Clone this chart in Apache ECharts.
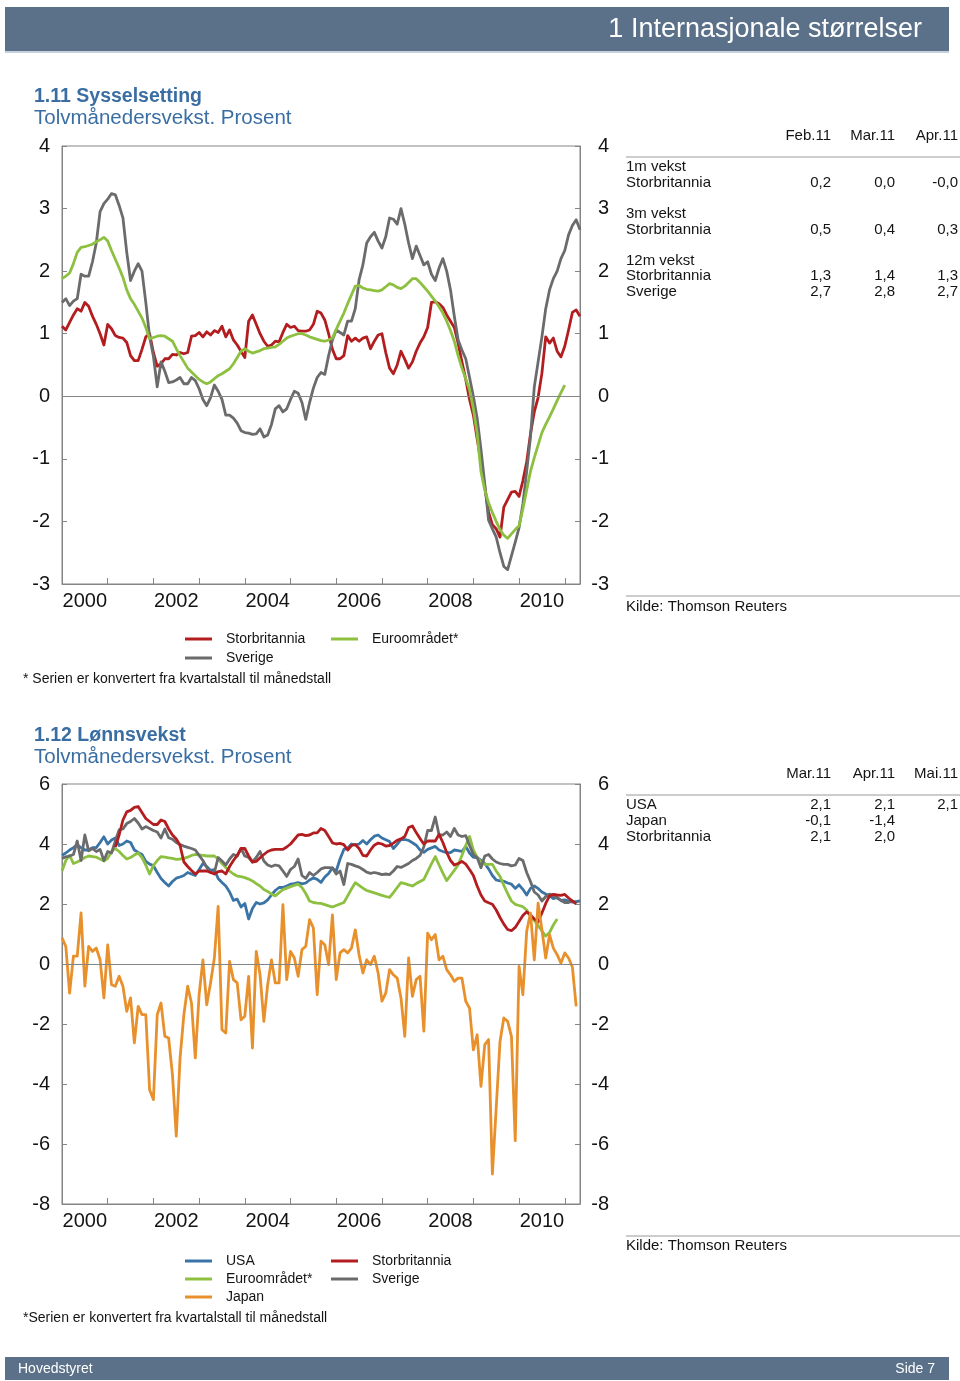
<!DOCTYPE html>
<html>
<head>
<meta charset="utf-8">
<script src="https://cdn.jsdelivr.net/npm/echarts@6/dist/echarts.min.js"></script>
<style>
html,body{margin:0;padding:0;background:#fff;}
#chart{width:960px;height:1381px;}
</style>
</head>
<body>
<div id="chart"></div>
<script>
// ---------- DATA (monthly, index 0 = Jan 2000) ----------
const yearLabels = ['2000','2002','2004','2006','2008','2010'];
const yTicks1 = [-3,-2,-1,0,1,2,3,4];
const yTicks2 = [-8,-6,-4,-2,0,2,4,6];

// 1.11 Sysselsetting
const sysUK = [
 1.12,1.06,1.18,1.30,1.40,1.36,1.50,1.44,1.28,1.15,1.00,0.82,
 1.15,1.08,0.97,0.94,0.93,0.86,0.65,0.57,0.57,0.75,0.95,1.00,
 0.70,0.48,0.52,0.60,0.60,0.67,0.66,0.70,0.68,0.70,0.96,0.97,
 1.02,0.95,1.03,0.98,1.05,1.02,1.12,0.95,1.06,0.90,0.82,0.72,
 0.62,1.20,1.30,1.15,1.00,0.88,0.80,0.82,0.88,0.87,1.02,1.15,
 1.10,1.12,1.05,1.04,1.04,1.06,1.15,1.36,1.33,1.22,1.00,0.75,
 0.60,0.60,0.65,0.97,0.88,0.93,0.88,0.93,0.95,0.76,0.88,0.98,
 1.00,0.70,0.45,0.36,0.50,0.72,0.59,0.45,0.55,0.72,0.85,0.95,
 1.10,1.50,1.51,1.48,1.42,1.30,1.20,1.10,0.85,0.55,0.27,-0.05,
 -0.30,-0.68,-1.05,-1.45,-1.85,-2.05,-2.12,-2.25,-1.77,-1.65,-1.53,-1.52,
 -1.60,-1.35,-1.05,-0.60,-0.25,-0.02,0.37,0.95,0.85,0.93,0.72,0.63,
 0.80,1.06,1.34,1.38,1.28
];
const sysSE = [
 1.50,1.56,1.45,1.52,1.56,1.95,1.92,1.92,2.15,2.45,2.95,3.08,
 3.15,3.24,3.22,3.05,2.85,2.30,1.85,2.00,2.12,2.00,1.50,0.95,
 0.64,0.15,0.55,0.40,0.22,0.23,0.26,0.30,0.20,0.20,0.30,0.25,
 0.12,-0.05,-0.15,-0.02,0.18,0.08,-0.05,-0.30,-0.30,-0.35,-0.43,-0.55,
 -0.58,-0.59,-0.61,-0.60,-0.52,-0.65,-0.62,-0.45,-0.20,-0.15,-0.25,-0.20,
 -0.05,0.08,0.05,-0.10,-0.37,-0.10,0.13,0.30,0.38,0.35,0.65,0.90,
 1.06,1.02,0.98,1.20,1.20,1.40,1.86,2.10,2.45,2.55,2.62,2.48,
 2.37,2.55,2.85,2.83,2.75,3.00,2.75,2.45,2.20,2.40,2.25,2.10,
 2.15,1.95,1.85,2.05,2.20,2.00,1.70,1.28,0.90,0.74,0.60,0.30,
 0.00,-0.35,-0.85,-1.40,-1.98,-2.12,-2.25,-2.50,-2.72,-2.77,-2.55,-2.33,
 -2.10,-1.72,-1.20,-0.65,0.15,0.55,0.95,1.40,1.70,1.88,2.00,2.20,
 2.33,2.58,2.73,2.82,2.66
];
const sysEA = [
 1.88,1.92,1.97,2.12,2.30,2.38,2.39,2.41,2.43,2.47,2.50,2.54,
 2.48,2.33,2.19,2.05,1.90,1.70,1.56,1.47,1.36,1.25,1.10,0.92,
 0.94,0.96,0.97,0.96,0.92,0.88,0.76,0.65,0.55,0.45,0.39,0.33,
 0.27,0.23,0.20,0.23,0.28,0.33,0.36,0.40,0.44,0.52,0.62,0.72,
 0.76,0.72,0.69,0.71,0.73,0.76,0.77,0.78,0.79,0.83,0.88,0.93,
 0.96,0.98,1.00,1.00,0.98,0.95,0.93,0.91,0.89,0.88,0.90,0.93,
 1.07,1.20,1.33,1.48,1.62,1.76,1.77,1.73,1.71,1.70,1.69,1.68,
 1.70,1.75,1.80,1.78,1.74,1.72,1.76,1.82,1.88,1.88,1.82,1.75,
 1.68,1.60,1.52,1.43,1.33,1.20,1.05,0.88,0.65,0.45,0.28,0.10,
 -0.20,-0.60,-1.20,-1.50,-1.70,-1.86,-2.00,-2.13,-2.22,-2.27,-2.20,-2.13,
 -2.07,-1.80,-1.50,-1.20,-0.98,-0.78,-0.58,-0.45,-0.33,-0.20,-0.07,0.06,
 0.18
];

// 1.12 Lønnsvekst
const lonUSA = [
 3.62,3.70,3.80,3.88,3.97,3.88,3.80,3.80,3.88,3.88,4.05,4.24,
 4.00,4.13,4.20,3.95,4.00,4.10,4.05,3.80,3.72,3.65,3.42,3.33,
 3.28,3.05,2.85,2.72,2.60,2.75,2.86,2.90,2.95,3.05,3.00,2.95,
 3.15,3.35,3.25,3.12,3.15,2.85,2.72,2.60,2.40,2.12,2.16,1.90,
 2.02,1.50,1.85,2.05,2.00,2.04,2.14,2.30,2.45,2.55,2.55,2.60,
 2.66,2.68,2.71,2.67,2.70,2.80,2.87,2.82,2.72,2.90,3.02,3.20,
 3.10,3.50,3.82,3.86,4.00,3.97,4.00,4.12,4.00,4.14,4.26,4.30,
 4.20,4.14,4.08,3.85,3.99,4.15,4.15,4.12,4.04,3.96,3.80,3.72,
 3.82,3.87,3.92,3.80,3.75,3.71,3.71,3.80,3.78,3.75,3.92,3.70,
 3.56,3.54,3.46,3.35,3.17,2.95,2.80,2.77,2.76,2.70,2.66,2.52,
 2.64,2.49,2.30,2.52,2.60,2.52,2.40,2.33,2.27,2.18,2.22,2.12,
 2.14,2.10,2.06,2.08,2.10
];
const lonUK = [
 null,null,null,null,null,null,null,null,null,null,null,null,
 null,null,3.90,4.30,4.80,5.07,5.12,5.22,5.25,5.05,4.85,4.75,
 4.65,4.65,4.80,4.75,4.50,4.30,4.17,3.95,3.40,3.25,3.12,3.00,
 3.10,3.10,3.10,3.05,3.00,3.08,3.10,3.00,3.25,3.45,3.62,3.85,
 3.85,3.60,3.40,3.42,3.54,3.65,3.75,3.80,3.82,3.82,3.82,3.90,
 4.00,4.15,4.30,4.32,4.28,4.30,4.37,4.37,4.52,4.45,4.25,4.04,
 4.00,4.02,3.98,3.80,3.95,3.98,3.85,3.62,3.60,3.80,3.96,4.03,
 4.00,3.93,3.95,4.03,4.12,4.17,4.25,4.55,4.60,4.38,4.18,4.00,
 4.10,4.10,4.10,4.32,4.05,3.72,3.45,3.30,3.35,3.42,3.33,3.15,
 2.95,2.60,2.30,2.10,2.04,1.99,1.80,1.55,1.33,1.15,1.11,1.22,
 1.42,1.62,1.74,1.63,1.50,1.40,1.70,2.02,2.27,2.32,2.30,2.29,
 2.32,2.20,2.10,2.00
];
const lonEA = [
 3.10,3.45,3.62,3.35,3.40,3.47,3.55,3.60,3.58,3.56,3.50,3.43,
 3.52,3.75,3.85,3.75,3.62,3.50,3.55,3.63,3.70,3.55,3.30,3.00,
 3.28,3.45,3.58,3.56,3.54,3.52,3.49,3.50,3.52,3.56,3.62,3.65,
 3.64,3.62,3.60,3.60,3.60,3.50,3.35,3.22,3.10,3.00,2.93,2.91,
 2.88,2.83,2.77,2.68,2.60,2.48,2.42,2.33,2.27,2.38,2.48,2.53,
 2.58,2.62,2.66,2.55,2.35,2.10,2.05,2.03,2.02,1.98,1.94,1.90,
 1.95,2.00,2.05,2.27,2.50,2.71,2.62,2.53,2.45,2.41,2.37,2.33,
 2.29,2.25,2.22,2.38,2.55,2.71,2.68,2.64,2.60,2.68,2.75,2.82,
 3.08,3.34,3.58,3.30,3.03,2.78,2.95,3.12,3.30,3.62,3.95,4.25,
 3.80,3.55,3.40,3.32,3.32,3.32,3.10,2.92,2.62,2.35,2.10,1.99,
 1.95,1.91,1.80,1.60,1.45,1.28,1.10,0.93,1.05,1.30,1.50
];
const lonJP = [
 0.87,0.59,-0.97,0.26,0.26,1.70,-0.74,0.59,0.42,0.53,0.14,-1.13,
 0.64,-0.69,-0.74,-0.41,-0.74,-1.58,-1.13,-2.63,-1.41,-1.69,-1.69,-4.19,
 -4.52,-1.69,-1.30,-2.41,-2.47,-3.69,-5.74,-3.13,-1.69,-0.74,-1.30,-3.13,
 -1.02,0.14,-1.36,-0.63,0.20,1.92,-2.19,-2.30,0.09,-0.52,-0.63,-1.86,
 -1.74,-0.41,-2.80,0.42,-0.36,-1.91,-0.69,0.14,-0.63,-0.63,1.98,-0.52,
 0.42,0.20,-0.41,0.48,0.59,1.48,1.20,-1.02,0.76,0.64,-0.02,1.64,
 -0.52,0.37,0.48,0.37,0.53,1.14,0.31,-0.30,0.14,-0.02,0.26,-0.30,
 -1.24,-0.97,-0.19,-0.36,-0.47,-1.13,-2.41,0.20,-1.08,-0.52,-0.41,-2.24,
 1.03,0.81,0.98,0.14,0.26,-0.19,-0.36,-0.58,-0.47,-0.47,-1.24,-1.47,
 -2.86,-2.36,-4.08,-2.69,-2.52,-7.00,-4.80,-2.58,-1.80,-1.91,-2.41,-5.89,
 -0.08,-1.02,1.09,1.70,0.14,2.03,1.14,0.20,0.98,0.53,0.31,0.03,
 0.37,0.20,-0.10,-1.41
];
const lonSE = [
 3.52,3.57,3.60,3.65,4.10,3.45,4.30,3.77,3.85,3.75,3.82,3.45,
 3.75,3.70,4.10,4.47,4.50,4.68,4.75,4.85,4.70,4.50,4.58,4.52,
 4.45,4.40,4.20,4.50,4.21,4.16,4.05,3.98,3.93,3.89,3.85,3.80,
 3.62,3.45,3.22,3.05,3.05,3.55,3.43,3.30,3.50,3.65,3.60,3.85,
 3.60,3.55,3.40,3.55,3.75,3.43,3.30,3.25,3.30,3.27,3.10,2.92,
 3.15,3.25,3.50,2.95,2.85,3.05,2.95,3.05,3.17,3.21,3.21,3.20,
 3.00,3.10,2.65,3.35,3.32,3.27,3.23,3.15,3.06,3.02,3.05,3.02,
 2.98,3.00,2.98,3.10,3.25,3.22,3.28,3.35,3.45,3.52,3.62,3.90,
 4.45,4.45,4.90,4.30,4.30,4.40,4.25,4.52,4.30,4.25,4.28,3.95,
 3.65,3.55,3.21,3.60,3.65,3.50,3.40,3.35,3.32,3.32,3.27,3.30,
 3.52,3.45,3.05,2.75,2.40,2.30,2.10,2.25,2.33,2.27,2.20,2.12,
 2.05,2.05,2.10,2.05
];

// Tables
const tab1Head = ['Feb.11','Mar.11','Apr.11'];
const tab1Groups = [
  {title:'1m vekst', rows:[['Storbritannia','0,2','0,0','-0,0']]},
  {title:'3m vekst', rows:[['Storbritannia','0,5','0,4','0,3']]},
  {title:'12m vekst', rows:[['Storbritannia','1,3','1,4','1,3'],['Sverige','2,7','2,8','2,7']]}
];
const tab2Head = ['Mar.11','Apr.11','Mai.11'];
const tab2Rows = [
  ['USA','2,1','2,1','2,1'],
  ['Japan','-0,1','-1,4',''],
  ['Storbritannia','2,1','2,0','']
];

// ---------- CHART ----------
const FONT = '"Liberation Sans", Arial, Helvetica, sans-serif';
const AX = '#858585';
const TXT = '#141414';
const C = {red:'#b31d1f', gray:'#6b6b6d', green:'#8dc040', blue:'#3a74a6', orange:'#e8902c'};
const X_MAX = 136;

function xy(arr){ return arr.map((v,i)=>[i,v]).filter(p=>p[1]!==null); }

function xAxes(g){
  return [
    {type:'value', gridIndex:g, min:0, max:X_MAX, interval:12, position:'bottom',
     axisLine:{show:true, onZero:false, lineStyle:{color:AX, width:1}},
     axisTick:{show:true, inside:true, length:6, lineStyle:{color:AX}},
     axisLabel:{show:false}, splitLine:{show:false}},
    {type:'value', gridIndex:g, min:0, max:X_MAX, interval:6, position:'bottom',
     axisLine:{show:false, onZero:false}, axisTick:{show:false}, splitLine:{show:false},
     axisLabel:{show:true, margin:7, fontSize:20, color:TXT, fontFamily:FONT,
       formatter:v => { const k=(v-6)/24; return (Number.isInteger(k) && yearLabels[k]) ? yearLabels[k] : ''; }}}
  ];
}
function yAxes(g, ticks){
  const mn = ticks[0], mx = ticks[ticks.length-1], iv = ticks[1]-ticks[0];
  const base = {type:'value', gridIndex:g, min:mn, max:mx, interval:iv, splitLine:{show:false},
    axisLine:{show:true, onZero:false, lineStyle:{color:AX, width:1}},
    axisTick:{show:true, inside:true, length:5, lineStyle:{color:AX}}};
  return [
    Object.assign({}, base, {position:'left', axisLabel:{margin:12, fontSize:20, color:TXT, fontFamily:FONT}}),
    Object.assign({}, base, {position:'right', axisLabel:{margin:29, align:'right', fontSize:20, color:TXT, fontFamily:FONT}})
  ];
}
function line(name, arr, color, xi, yi){
  return {type:'line', name:name, data:xy(arr), xAxisIndex:xi, yAxisIndex:yi,
    showSymbol:false, symbol:'none', color:color, smooth:false, animation:false,
    lineStyle:{color:color, width:2.8, join:'round'}, itemStyle:{color:color}, z:3};
}
function zeroLine(xi, yi){
  return {type:'line', name:'_zero', data:[[0,0]], xAxisIndex:xi, yAxisIndex:yi, showSymbol:false, symbol:'none',
    lineStyle:{opacity:0}, z:2, animation:false,
    markLine:{silent:true, symbol:'none', animation:false, label:{show:false},
      lineStyle:{color:AX, width:1, type:'solid'}, data:[{yAxis:0}]}};
}
function leg(name, left, top){
  return {data:[name], left:left, top:top, padding:0, itemWidth:27, itemHeight:3, icon:'rect',
    selectedMode:false, textStyle:{fontSize:14, color:TXT, fontFamily:FONT, lineHeight:16, padding:[0,0,0,9]}};
}

// graphics
const g = [];
function txt(s, x, y, opt){
  g.push({type:'text', silent:true, style:Object.assign({text:s, x:x, y:y, fill:TXT, font:'15px '+FONT, align:'left', verticalAlign:'middle'}, opt||{})});
}
function hline(x1, x2, y, color){
  g.push({type:'line', silent:true, shape:{x1:x1, y1:y, x2:x2, y2:y}, style:{stroke:color||'#9a9a9a', lineWidth:1}});
}
// header & footer
g.push({type:'rect', silent:true, shape:{x:5, y:7, width:944, height:44}, style:{fill:'#5a7189'}});
g.push({type:'rect', silent:true, shape:{x:5, y:51, width:944, height:2}, style:{fill:'#c7d1dc'}});
txt('1 Internasjonale størrelser', 922, 30, {fill:'#ffffff', font:'27px '+FONT, align:'right'});
g.push({type:'rect', silent:true, shape:{x:5, y:1357, width:944, height:23}, style:{fill:'#5a7189'}});
txt('Hovedstyret', 18, 1369, {fill:'#ffffff', font:'14px '+FONT});
txt('Side 7', 935, 1369, {fill:'#ffffff', font:'14px '+FONT, align:'right'});
// titles
const TITLE = '#3a6ea3';
txt('1.11 Sysselsetting', 34, 97, {fill:TITLE, font:'bold 19.5px '+FONT});
txt('Tolvmånedersvekst. Prosent', 34, 118, {fill:TITLE, font:'20.5px '+FONT});
txt('1.12 Lønnsvekst', 34, 736, {fill:TITLE, font:'bold 19.5px '+FONT});
txt('Tolvmånedersvekst. Prosent', 34, 757, {fill:TITLE, font:'20.5px '+FONT});
// table 1
const colX = [831, 895, 958];
tab1Head.forEach((h,i)=>txt(h, colX[i], 136, {align:'right'}));
hline(626, 960, 157);
let ty = 167;
tab1Groups.forEach((grp, gi)=>{
  txt(grp.title, 626, ty);
  grp.rows.forEach(r=>{
    ty += 15.7;
    txt(r[0], 626, ty);
    for(let i=1;i<4;i++) if(r[i]) txt(r[i], colX[i-1], ty, {align:'right'});
  });
  ty += 31;
});
hline(626, 960, 596);
txt('Kilde: Thomson Reuters', 626, 607);
// table 2
tab2Head.forEach((h,i)=>txt(h, colX[i], 774, {align:'right'}));
hline(626, 960, 795);
tab2Rows.forEach((r, ri)=>{
  const y = 805 + ri*16;
  txt(r[0], 626, y);
  for(let i=1;i<4;i++) if(r[i]) txt(r[i], colX[i-1], y, {align:'right'});
});
hline(626, 960, 1236);
txt('Kilde: Thomson Reuters', 626, 1246);
// footnotes
txt('* Serien er konvertert fra kvartalstall til månedstall', 23, 679, {font:'14px '+FONT});
txt('*Serien er konvertert fra kvartalstall til månedstall', 23, 1318, {font:'14px '+FONT});

const option = {
  animation:false,
  backgroundColor:'#ffffff',
  textStyle:{fontFamily:FONT},
  grid:[
    {left:62, top:146, width:518, height:438, show:true, borderColor:AX, borderWidth:1, backgroundColor:'transparent'},
    {left:62, top:784, width:518, height:420, show:true, borderColor:AX, borderWidth:1, backgroundColor:'transparent'}
  ],
  xAxis: xAxes(0).concat(xAxes(1)),
  yAxis: yAxes(0, yTicks1).concat(yAxes(1, yTicks2)),
  legend:[
    leg('Storbritannia', 185, 631), leg('Euroområdet*', 331, 631), leg('Sverige', 185, 650),
    leg('USA', 185, 1253), leg('Storbritannia', 331, 1253), leg('Euroområdet*', 185, 1271),
    leg('Sverige', 331, 1271), leg('Japan', 185, 1289)
  ],
  series:[
    zeroLine(0,0),
    line('Storbritannia', sysUK, C.red, 0, 0),
    line('Sverige', sysSE, C.gray, 0, 0),
    line('Euroområdet*', sysEA, C.green, 0, 0),
    zeroLine(2,2),
    line('USA', lonUSA, C.blue, 2, 2),
    line('Euroområdet*', lonEA, C.green, 2, 2),
    line('Sverige', lonSE, C.gray, 2, 2),
    line('Storbritannia', lonUK, C.red, 2, 2),
    line('Japan', lonJP, C.orange, 2, 2)
  ],
  graphic: g
};

const chart = echarts.init(document.getElementById('chart'), null, {renderer:'canvas', width:960, height:1381});
chart.setOption(option);
</script>
</body>
</html>
